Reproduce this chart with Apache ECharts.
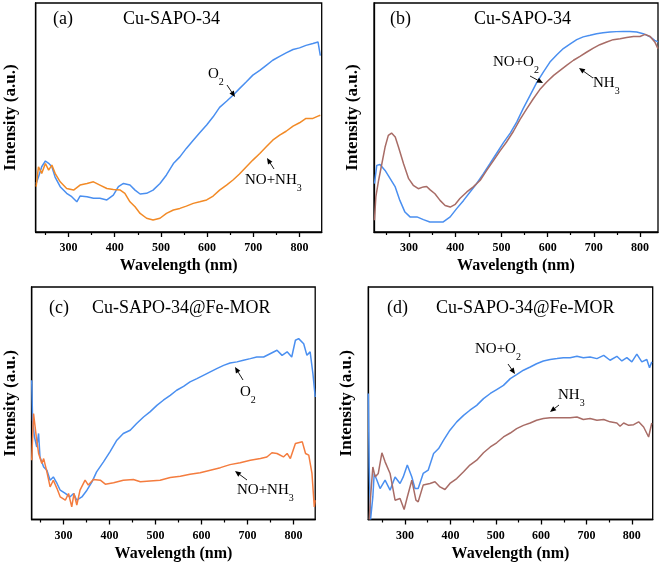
<!DOCTYPE html>
<html><head><meta charset="utf-8">
<script src="https://cdn.jsdelivr.net/npm/echarts@6/dist/echarts.min.js"></script>
<style>html,body{margin:0;padding:0;background:#fff}#c{width:661px;height:565px}</style>
</head><body><div id="c"></div>
<script>
// ---------- data (wavelength nm, intensity a.u. on 0-100 scale) ----------
const majorTicks = [300, 400, 500, 600, 700, 800];
const minorTicks = [250, 350, 450, 550, 650, 750];

// (a) Cu-SAPO-34
const aO2_wl = [230,235,242,250,257,264,271,282,296,307,318,325,340,354,368,383,397,408,419,433,444,455,469,483,498,512,527,541,555,570,584,599,613,627,642,656,670,685,699,714,728,742,757,771,786,800,814,829,840,845];
const aO2_v  = [21.2,24,28.5,31,30,28.5,24,19.8,16.9,15.4,13.2,15.7,15.4,14.7,14.7,14,16.1,19.8,21.2,20.5,18.3,16.6,16.9,18.3,21.2,24.9,29.9,32.8,36.5,40.1,43.3,46.7,50.3,54.4,57.1,59.7,62.6,65.6,68.5,70.6,72.8,75,76.7,78.2,79.7,80.4,81.5,82.3,83,77];
const aNH_wl = [230,235,242,250,257,264,271,282,296,311,325,340,354,368,383,397,412,422,433,444,455,469,483,498,512,527,541,555,570,584,599,613,627,642,656,670,685,699,714,728,742,757,771,786,800,814,829,840,845];
const aNH_v  = [19.8,28.5,25.6,29.9,27,29.2,25.6,21.9,19,18.3,20.5,21.2,21.9,20.5,19,18.6,18.3,16.9,13.2,11,8.1,6,5.2,6,8.1,9.6,10.3,11.3,12.5,13.2,14,15.7,18.3,20.5,22.7,25.3,28.5,31.4,34.3,37.2,40.1,42.3,44,46.2,47.7,49.6,49.6,50.6,51];

// (b) Cu-SAPO-34
const bNOO2_wl = [225,230,237,248,259,270,280,291,302,317,331,345,360,374,389,403,418,432,446,461,475,490,504,519,533,547,562,576,591,605,620,634,649,663,677,692,706,720,735,749,764,778,793,807,822,832,839];
const bNOO2_v  = [21.1,29.1,29.5,26.9,23.3,19.7,13.8,8.7,6.6,6.6,5.4,4.4,4.4,4.4,6.6,10.2,13.8,17.5,21.1,25.5,29.8,34.5,38.9,43.2,48,53.9,59.7,65.1,69.9,74.2,77.4,80.1,82.2,84,85.2,85.9,86.6,87,87.3,87.5,87.6,87.6,87.3,86.6,85.2,83.7,83];
const bNH3_wl = [225,228,234,241,248,255,262,270,277,288,299,309,320,331,338,345,356,367,378,389,400,410,425,439,454,468,483,497,511,526,540,555,569,583,598,613,627,641,656,670,685,699,713,728,742,757,771,786,800,811,822,832,839];
const bNH3_v  = [5.1,15.3,22.6,29.8,37.1,42.2,43.2,41.5,37.1,29.8,23.3,20.4,18.9,19.7,19.9,18.5,16.7,13.8,11.6,10.9,12.1,14.6,17.5,19.7,22.6,26.9,31.3,35.4,39.3,44,49.1,53.9,58.2,62.2,65.5,68.4,70.6,72.8,75,76.7,78.6,80.3,81.8,83,84,84.4,84.9,85.4,85.4,86.3,85.4,83,80.1];

// (c) Cu-SAPO-34@Fe-MOR
const cO2_wl = [231,233,237,242,246,249,257,264,271,278,286,293,304,314,322,329,340,351,362,372,387,401,416,430,445,459,474,488,503,517,532,546,561,575,590,604,619,633,648,662,677,691,706,720,735,749,764,775,786,796,804,811,822,829,836,842,847];
const cO2_v  = [59.9,42.7,35.5,31.2,37,26.9,22.6,21.2,16.9,18.3,15.5,12.6,11.2,9.7,11.2,8.3,9.7,12.6,16.2,20.5,24.8,29.1,34.1,37,38.4,41.3,44.1,46.3,49.1,51.3,53.4,55.6,57.3,59.2,60.6,62,63.5,64.9,66.3,67.3,67.8,68.5,69.2,69.9,69.9,71.3,72.8,70.6,72.1,69.9,77.1,77.8,75.6,70.6,72.1,62.8,52.7];
const cNH_wl = [231,235,237,241,246,253,257,264,271,278,286,293,304,311,318,323,329,336,347,354,365,380,391,409,430,452,467,488,510,532,554,575,597,619,641,662,684,706,728,742,753,764,778,786,793,804,819,826,833,840,845,847];
const cNH_v  = [25.5,45.6,46.3,35.5,28.4,24.1,26.2,20.5,14,16.9,13.3,9.7,8.3,11.2,5.4,11.2,6.2,12.6,16.9,14.8,17.2,16.9,15.2,15.8,16.9,17.2,16.2,16.6,16.9,18.1,18.6,19.5,20.1,21.2,22.3,23.6,24.4,25.5,26.2,26.9,28.7,28.4,26.9,28.4,26.2,32.7,33.4,28.4,27.7,19.8,5.4,8.3];

// (d) Cu-SAPO-34@Fe-MOR
const dNOO2_wl = [219,221,224,229,232,238,245,256,267,278,289,296,305,315,322,329,340,351,363,374,385,399,414,429,443,458,473,488,502,517,532,546,561,576,590,605,620,635,649,664,679,693,708,723,738,752,767,778,789,800,811,822,833,839,844];
const dNOO2_v  = [54.2,22.6,0,9.7,19.8,16.9,13.3,16.9,12.6,18.3,15.5,18.3,23.4,18.3,13.3,13.3,19.8,21.2,28.4,30.5,34.1,38.4,42,44.8,47,49.1,52,54.2,55.9,57.7,60.6,62.3,64.2,65.6,67,68.2,68.8,69.2,69.6,69.6,70.2,69.6,69.9,69.2,70.6,68.5,70.2,68.2,69.6,67.8,71.1,67.8,68.8,65.3,67.8];
const dNH3_wl = [221,224,229,234,241,249,256,267,278,289,298,305,315,324,329,340,355,366,377,388,399,414,429,443,458,473,488,502,517,532,546,561,576,590,605,620,635,649,664,679,693,708,723,738,752,767,774,782,793,804,815,826,837,844];
const dNH3_v  = [0,9.7,22.6,18.3,19.8,28.7,24.8,19.8,8.3,9,4.3,9.7,16.9,8.3,7.6,14.8,15.5,16.2,14,12.9,15.5,17.6,20.5,23.4,25.5,28.7,31.2,33,35.5,37.2,39.1,40.5,41.5,42.7,43.4,43.8,43.8,43.8,43.8,44.1,43,43.4,42.7,43,42,41.5,40.1,41.5,40.5,40.8,42,39.8,35.5,41.5];

const titles = ['Cu-SAPO-34', 'Cu-SAPO-34', 'Cu-SAPO-34@Fe-MOR', 'Cu-SAPO-34@Fe-MOR'];
const letters = ['(a)', '(b)', '(c)', '(d)'];

// ---------- styling / layout ----------
const SERIF = '"Times New Roman","Liberation Serif",serif';
const BLUE = '#4a8ff0', ORANGE = '#f28a26', BROWN = '#a86c66', RORANGE = '#f47c3e';
const zip = (a, b) => a.map((x, i) => [x, b[i]]);

const panels = [
  {grid:{left:35.7, top:3, width:286, height:229}, xmin:229, xmax:848, yGap:17,
   series:[[aO2_wl, aO2_v, BLUE], [aNH_wl, aNH_v, ORANGE]]},
  {grid:{left:374, top:3, width:284, height:229}, xmin:224, xmax:839, yGap:13,
   series:[[bNOO2_wl, bNOO2_v, BLUE], [bNH3_wl, bNH3_v, BROWN]]},
  {grid:{left:31.7, top:287, width:283.5, height:232.5}, xmin:231, xmax:847, yGap:13,
   series:[[cO2_wl, cO2_v, BLUE], [cNH_wl, cNH_v, RORANGE]]},
  {grid:{left:368.3, top:287, width:284.4, height:232.5}, xmin:219, xmax:846, yGap:13,
   series:[[dNOO2_wl, dNOO2_v, BLUE], [dNH3_wl, dNH3_v, BROWN]]}
];

const grid = [], xAxis = [], yAxis = [], series = [];
panels.forEach((p, i) => {
  grid.push(Object.assign({show:true, borderColor:'#000', borderWidth:1.3, backgroundColor:'transparent'}, p.grid));
  xAxis.push({type:'value', gridIndex:i, min:p.xmin, max:p.xmax, position:'bottom',
    name:'Wavelength (nm)', nameLocation:'middle', nameGap:26,
    nameTextStyle:{fontFamily:SERIF, fontWeight:'bold', fontSize:16, color:'#000'},
    axisLine:{show:true, lineStyle:{color:'#000', width:1.3}},
    axisTick:{show:true, inside:false, length:5, customValues:majorTicks, lineStyle:{color:'#000', width:1.3}},
    axisLabel:{show:true, customValues:majorTicks, margin:10, fontFamily:SERIF, fontWeight:'bold', fontSize:12, color:'#000'},
    splitLine:{show:false}});
  xAxis.push({type:'value', gridIndex:i, min:p.xmin, max:p.xmax, position:'bottom',
    axisLine:{show:false},
    axisTick:{show:true, inside:false, length:3, customValues:minorTicks, lineStyle:{color:'#000', width:1.2}},
    axisLabel:{show:false}, splitLine:{show:false}});
  yAxis.push({type:'value', gridIndex:i, min:0, max:100,
    name:'Intensity (a.u.)', nameLocation:'middle', nameGap:p.yGap,
    nameTextStyle:{fontFamily:SERIF, fontWeight:'bold', fontSize:17, color:'#000'},
    axisLine:{show:true, lineStyle:{color:'#000', width:1.3}},
    axisTick:{show:false}, axisLabel:{show:false}, splitLine:{show:false}});
  p.series.forEach(s => {
    series.push({type:'line', xAxisIndex:i*2, yAxisIndex:i, data:zip(s[0], s[1]),
      showSymbol:false, symbol:'none', clip:true, lineStyle:{color:s[2], width:1.5}, itemStyle:{color:s[2]}});
  });
});

// ---------- annotations ----------
function label(x, y, main, sub) {
  return {type:'text', x:x, y:y, z:100, style:{
    text: sub ? '{n|' + main + '}{s|' + sub + '}' : '{n|' + main + '}',
    verticalAlign:'middle', align:'left',
    rich:{ n:{fontFamily:SERIF, fontSize:15, lineHeight:20, verticalAlign:'top', fill:'#000'},
           s:{fontFamily:SERIF, fontSize:10, lineHeight:9, verticalAlign:'bottom', fill:'#000'} }}};
}
function arrow(x1, y1, x2, y2) {
  const dx = x2 - x1, dy = y2 - y1, L = Math.hypot(dx, dy), ux = dx / L, uy = dy / L;
  const hl = 6, hw = 2.6, bx = x2 - ux * hl, by = y2 - uy * hl;
  return [
    {type:'line', z:100, shape:{x1:x1, y1:y1, x2:bx, y2:by}, style:{stroke:'#000', lineWidth:0.9}},
    {type:'polygon', z:100, shape:{points:[[x2, y2], [bx - uy * hw, by + ux * hw], [bx + uy * hw, by - ux * hw]]}, style:{fill:'#000'}}
  ];
}
function title(x, y, txt) {
  return {type:'text', x:x, y:y, z:100, style:{text:txt, fontFamily:SERIF, fontSize:18, fill:'#000', verticalAlign:'middle', align:'left'}};
}

const graphic = [
  title(53, 19, letters[0]), title(123, 19, titles[0]),
  title(390, 19, letters[1]), title(474, 19, titles[1]),
  title(49, 308, letters[2]), title(92, 308, titles[2]),
  title(387, 308, letters[3]), title(436, 308, titles[3]),
  label(208, 77, 'O', '2'), ...arrow(227, 85, 235, 97),
  label(245, 183, 'NO+NH', '3'), ...arrow(274, 169, 267, 158),
  label(493, 65, 'NO+O', '2'), ...arrow(530, 76, 543, 83),
  label(593, 86, 'NH', '3'), ...arrow(593, 78, 579, 68),
  label(240, 395, 'O', '2'), ...arrow(243, 380, 235, 367),
  label(237, 493, 'NO+NH', '3'), ...arrow(247, 480, 235, 471),
  label(475, 352, 'NO+O', '2'), ...arrow(508, 364, 515, 374),
  label(558, 398, 'NH', '3'), ...arrow(559, 405, 550, 412)
];

const chart = echarts.init(document.getElementById('c'), null, {renderer:'canvas'});
chart.setOption({animation:false, backgroundColor:'#fff', grid, xAxis, yAxis, series, graphic});
</script>
</body></html>
